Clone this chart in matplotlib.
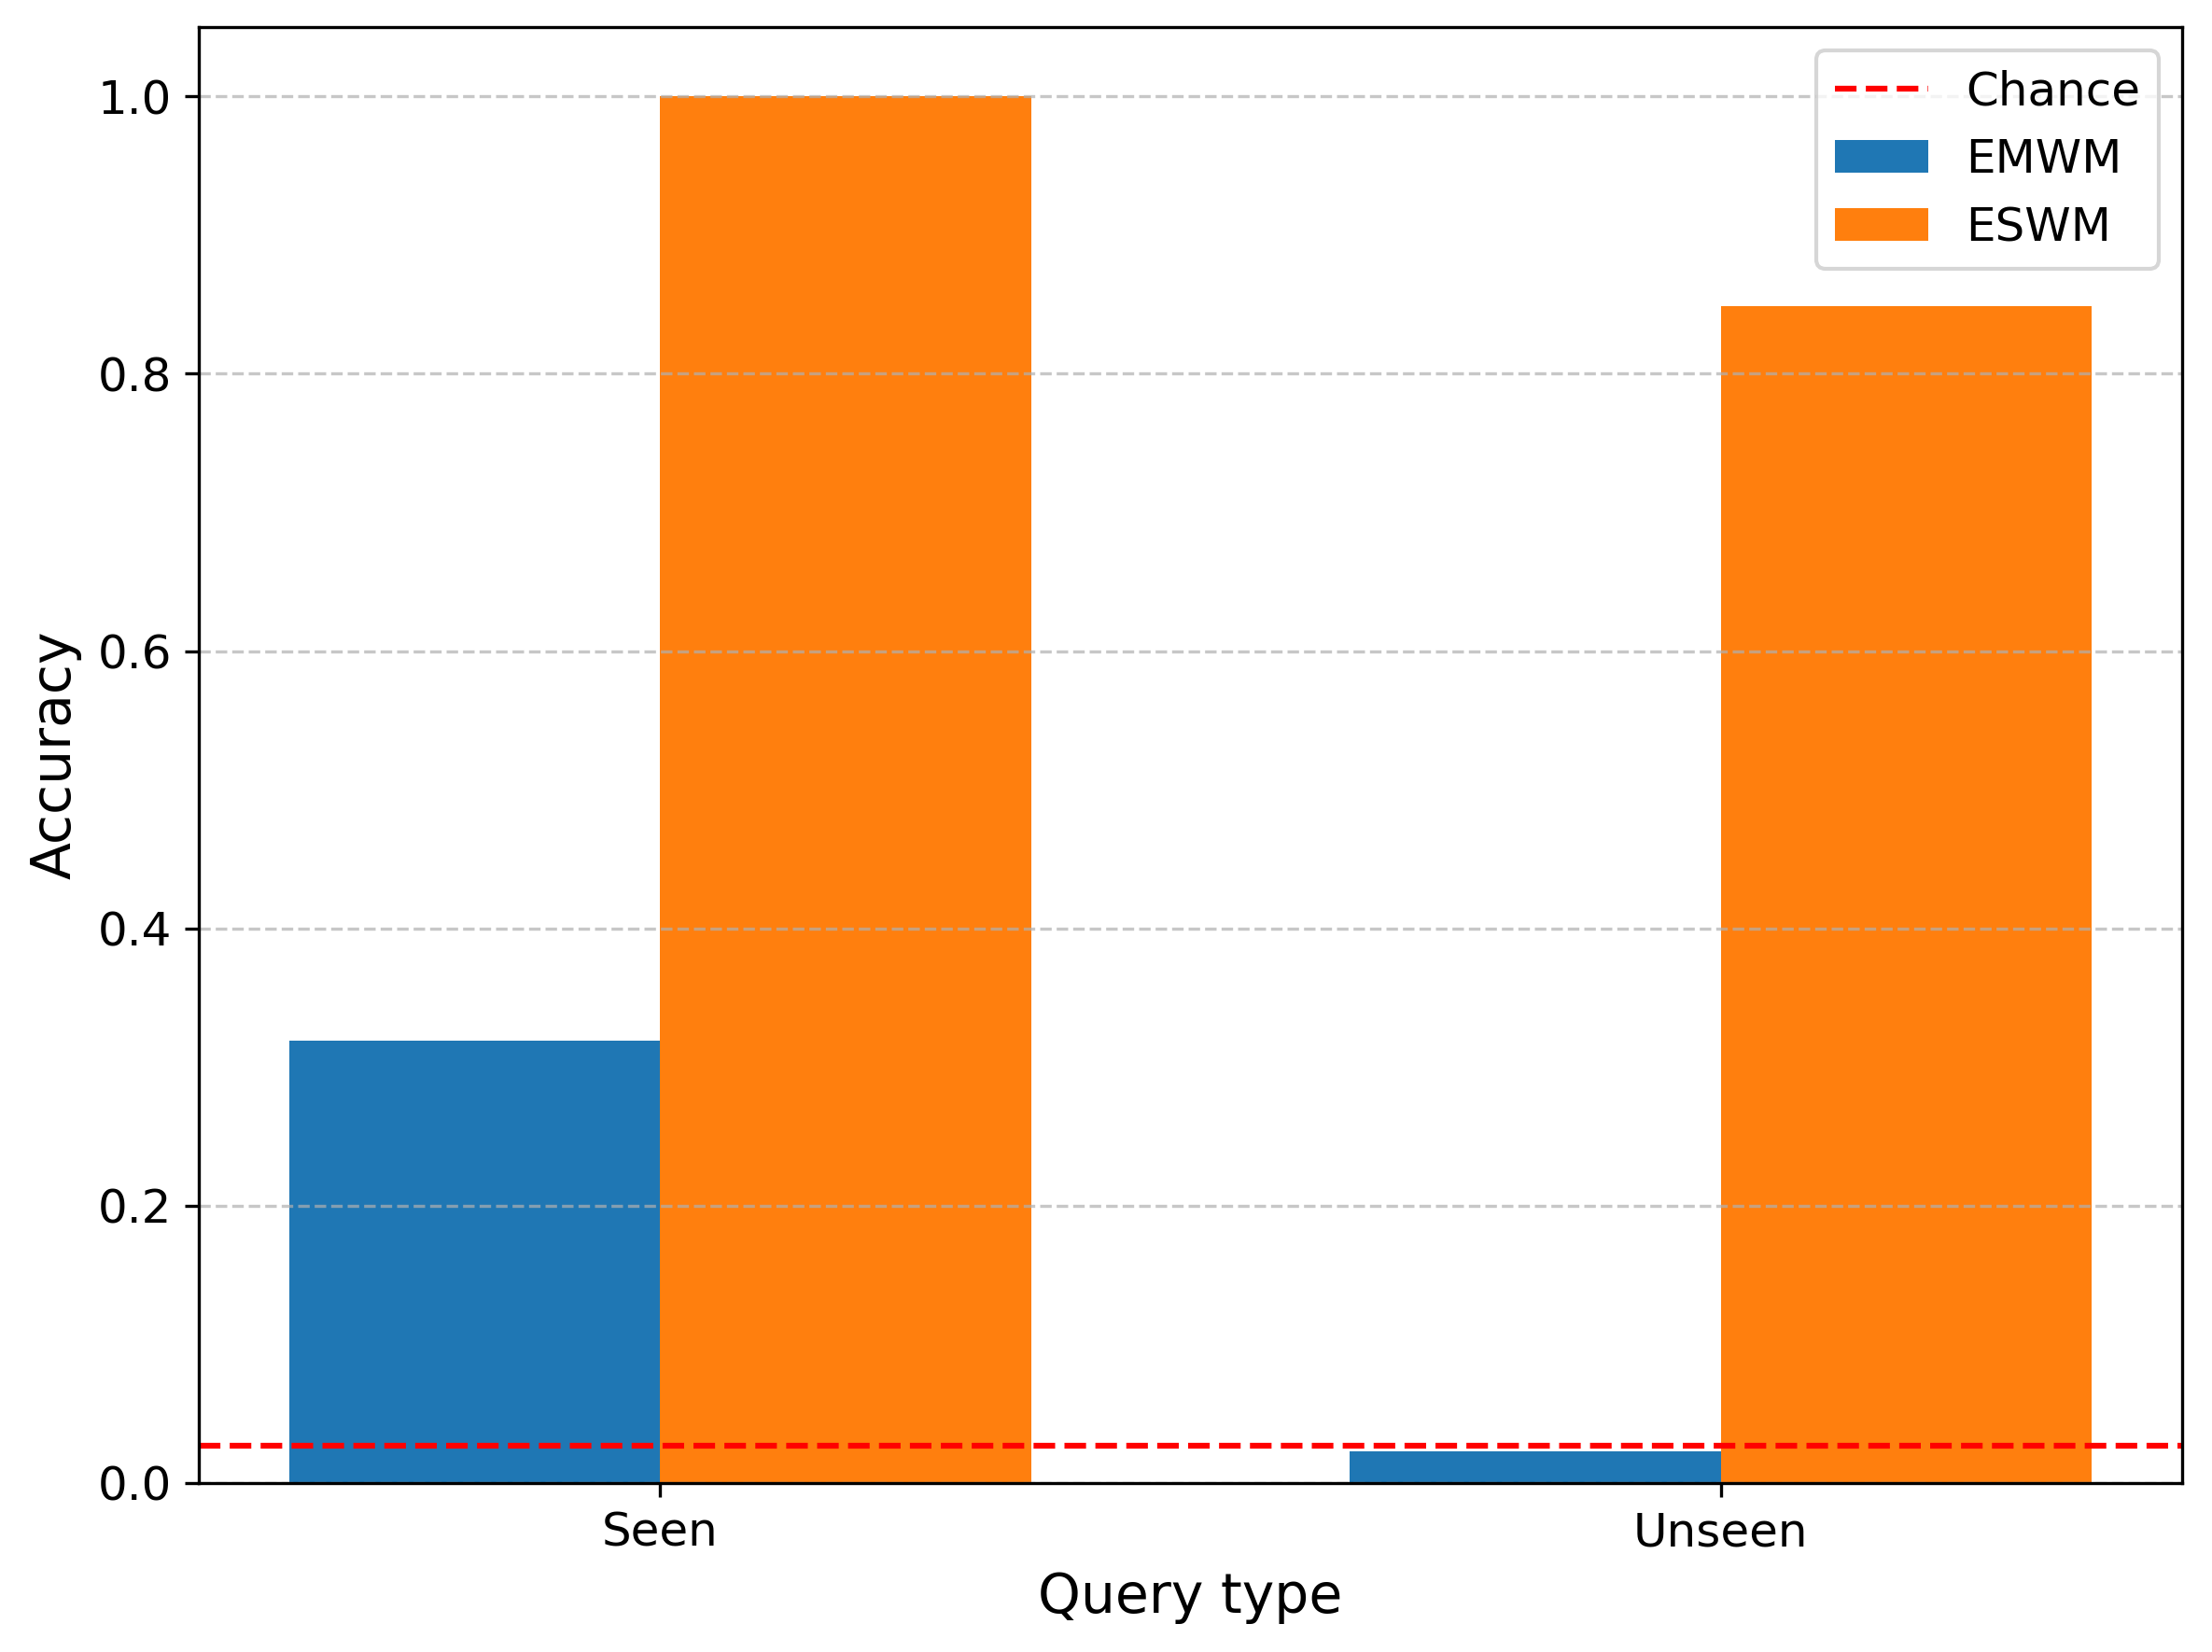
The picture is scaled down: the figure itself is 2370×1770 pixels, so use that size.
import matplotlib
matplotlib.use("Agg")
import matplotlib.pyplot as plt
import numpy as np

categories = ["Seen", "Unseen"]
emwm = [0.319, 0.023]
eswm = [1.0, 0.849]
chance = 0.027

fig = plt.figure(figsize=(7.9, 5.9), dpi=300)
ax = fig.add_axes([0.0899, 0.1023, 0.9865 - 0.0899, 0.9836 - 0.1023])

x = np.arange(len(categories))
width = 0.35
ax.bar(x - width / 2, emwm, width, label="EMWM", color="#1f77b4")
ax.bar(x + width / 2, eswm, width, label="ESWM", color="#ff7f0e")
ax.axhline(chance, color="red", linestyle="--", linewidth=1.5, label="Chance")

ax.set_xticks(x)
ax.set_xticklabels(categories)
ax.tick_params(axis="both", labelsize=12)
ax.set_xlabel("Query type", fontsize=14)
ax.set_ylabel("Accuracy", fontsize=14)
ax.yaxis.grid(True, linestyle="--", alpha=0.7)
ax.legend(loc="upper right", fontsize=12)

fig.savefig("out.png", dpi=300)
